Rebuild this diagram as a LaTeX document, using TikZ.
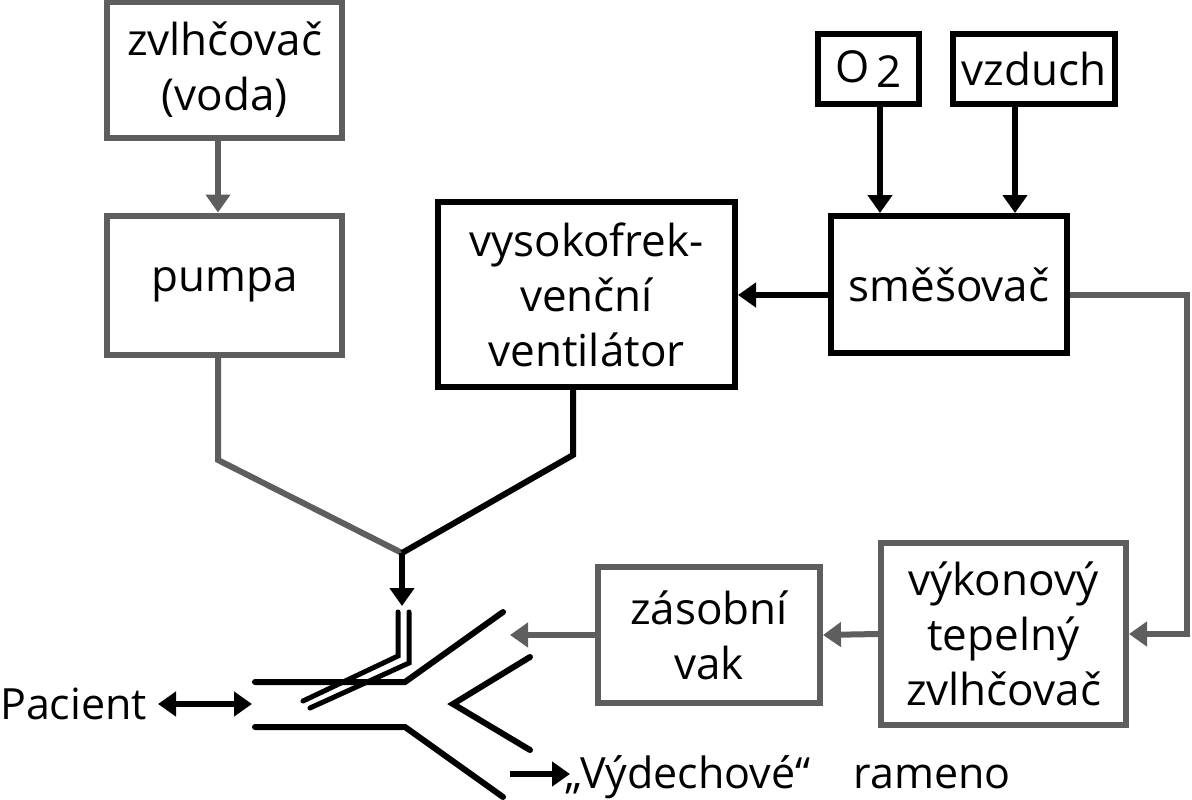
\documentclass[tikz,border=0pt]{standalone}
\usepackage{fontspec}
\setmainfont{Open Sans}
\usetikzlibrary{arrows.meta}
\definecolor{gr}{HTML}{5E5E5E}
\begin{document}
\begin{tikzpicture}[x=1pt,y=-1pt,
  box/.style={draw,line width=6pt,rectangle,inner sep=0pt,align=center,font=\fontsize{44}{55}\selectfont},
  gbox/.style={box,draw=gr},
  bbox/.style={box,draw=black},
  arr/.style={line width=6pt,-{Triangle[length=18pt,width=24pt]}},
  tube/.style={line width=6pt,line cap=round},
  lbl/.style={font=\fontsize{43}{50}\selectfont,inner sep=0pt}]
\useasboundingbox (0,0) rectangle (1192,800);
\node[gbox,minimum width=235pt,minimum height=136pt] (zvlh) at (224.5,70) {zvlhčovač\\(voda)};
\node[gbox,minimum width=235pt,minimum height=139pt] (pumpa) at (224.5,285) {pumpa};
\node[bbox,minimum width=297pt,minimum height=185pt] (vent) at (586.5,294.5) {vysokofrek-\\venční\\ventilátor};
\node[bbox,minimum width=101pt,minimum height=70pt] (o2) at (868.5,69) {O\,\raisebox{-0.2ex}{2}};
\node[bbox,minimum width=162pt,minimum height=70pt] (vzd) at (1034,69) {vzduch};
\node[bbox,minimum width=236pt,minimum height=137pt] (smes) at (949,284.5) {směšovač};
\node[gbox,minimum width=222pt,minimum height=136pt] (zas) at (709,635) {zásobní\\vak};
\node[gbox,minimum width=245pt,minimum height=182pt] (vyk) at (1003.5,634) {výkonový\\tepelný\\zvlhčovač};
\node[lbl,anchor=west] (pac) at (0,704) {Pacient};
\node[lbl,anchor=west] (vyd) at (565,777) {„Výdechové“\quad rameno};
\coordinate (j) at (402,553);
\coordinate (jt) at (402,606);
\coordinate (zin) at (510,635);
\coordinate (pa) at (158,704);
\coordinate (pb) at (252,704);
\coordinate (ea) at (510,774);
\coordinate (eb) at (570,774);
% connectors
\draw[arr,gr] (zvlh.south -| 218,0) -- (pumpa.north -| 218,0);
\draw[arr,black] (o2.south -| 880,0) -- (smes.north -| 880,0);
\draw[arr,black] (vzd.south -| 1015,0) -- (smes.north -| 1015,0);
\draw[arr,black] (smes.west |- 0,295) -- (vent.east |- 0,295);
\draw[arr,gr] (smes.east |- 0,295) -- (1187,295) |- (vyk.east);
\draw[arr,gr] (vyk.west) -- (zas.east);
\draw[arr,gr] (zas.west) -- (zin);
\draw[line width=6pt,gr] (pumpa.south -| 218,0) -- (218,460) -- (j);
\draw[line width=6pt,black] (vent.south -| 573,0) -- (573,455) -- (j);
\draw[arr,black] (j) -- (jt);
\draw[line width=6pt,{Triangle[length=18pt,width=24pt]}-{Triangle[length=18pt,width=24pt]}] (pa) -- (pb);
\draw[arr] (ea) -- (eb);
% Y-piece
\draw[tube] (255,682) -- (405,682) -- (503,612);
\draw[tube] (255,727) -- (405,727) -- (503,797);
\draw[tube] (530,657) -- (453,704) -- (530,750);
\draw[line width=5pt,line cap=round] (398,612) -- (398,656) -- (303,701);
\draw[line width=5pt,line cap=round] (409,612) -- (409,663) -- (310,708);
\end{tikzpicture}
\end{document}
